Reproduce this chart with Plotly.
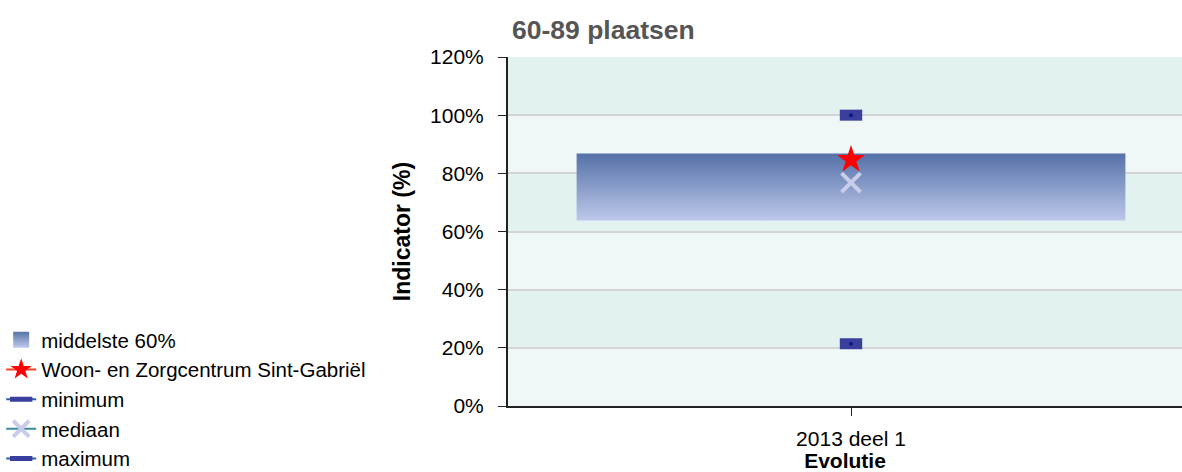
import plotly.graph_objects as go

# ---- data ----
periods = ["2013 deel 1"]
p20 = [63.8]          # lower bound of middle 60%
p80 = [86.8]          # upper bound of middle 60%
facility = [84.7]     # Woon- en Zorgcentrum Sint-Gabriël
minimum = [21.4]
median = [76.8]
maximum = [100.0]
y_ticks = [0, 20, 40, 60, 80, 100, 120]
y_ticklabels = [f"{v}%" for v in y_ticks]

FONT = "Liberation Sans, Arial, sans-serif"
xpos = list(range(len(periods)))
half = 0.4

fig = go.Figure()

# middle 60% box with vertical gradient
for i, x in enumerate(xpos):
    fig.add_trace(go.Scatter(
        x=[x - half, x + half, x + half, x - half, x - half],
        y=[p20[i], p20[i], p80[i], p80[i], p20[i]],
        mode="lines", line=dict(width=0, color="rgba(0,0,0,0)"),
        fill="toself",
        fillgradient=dict(type="vertical",
                          colorscale=[[0, "#bdc8ea"], [1, "#5571a8"]]),
        name="middelste 60%", showlegend=False, hoverinfo="skip",
    ))
# legend entry for the box
fig.add_trace(go.Scatter(
    x=[None], y=[None], mode="markers", name="middelste 60%",
    marker=dict(symbol="square", size=16, color="#5873aa",
                gradient=dict(type="vertical", color="#c0cbec"),
                line=dict(width=0)),
))

fig.add_trace(go.Scatter(
    x=xpos, y=facility, mode="lines+markers", name="Woon- en Zorgcentrum Sint-Gabriël",
    line=dict(color="#ff4020", width=2),
    marker=dict(symbol="star", size=21, color="#ff0000", line=dict(width=0)),
))

fig.add_trace(go.Scatter(
    x=xpos, y=minimum, mode="lines+markers", name="minimum",
    line=dict(color="#2f5fae", width=2),
    marker=dict(symbol="line-ew", size=16, color="#3a3f9e",
                line=dict(width=11, color="#3a3f9e")),
))

fig.add_trace(go.Scatter(
    x=xpos, y=median, mode="lines+markers", name="mediaan",
    line=dict(color="#3a8a9a", width=2),
    marker=dict(symbol="x-thin", size=19, color="#c8cdea",
                line=dict(width=4, color="#c8cdea")),
))

fig.add_trace(go.Scatter(
    x=xpos, y=maximum, mode="lines+markers", name="maximum",
    line=dict(color="#2f5fae", width=2),
    marker=dict(symbol="line-ew", size=16, color="#3a3f9e",
                line=dict(width=11, color="#3a3f9e")),
))

# centre dots of min/max markers (no legend)
fig.add_trace(go.Scatter(
    x=xpos + xpos, y=minimum + maximum, mode="markers", showlegend=False,
    marker=dict(symbol="circle", size=4, color="#101880"), hoverinfo="skip",
))

# alternating background bands
shapes = []
for k in range(len(y_ticks) - 1):
    shapes.append(dict(
        type="rect", xref="paper", yref="y", x0=0, x1=1,
        y0=y_ticks[k], y1=y_ticks[k + 1], layer="below", line=dict(width=0),
        fillcolor="#f0f8f7" if k % 2 == 0 else "#e2f2f0",
    ))

fig.update_layout(
    width=1182, height=472,
    margin=dict(l=508, r=0, t=57, b=66, autoexpand=False),
    paper_bgcolor="white", plot_bgcolor="rgba(0,0,0,0)",
    font=dict(family=FONT, size=21, color="#000000"),
    shapes=shapes,
    title=dict(text="<b>60-89 plaatsen</b>", font=dict(size=26.5, color="#555555", family=FONT),
               xref="container", x=512 / 1182, xanchor="left",
               yref="container", y=1 - 30 / 472, yanchor="middle"),
    legend=dict(xref="container", x=0.001, xanchor="left",
                yref="container", y=1 - 320 / 472, yanchor="top",
                font=dict(size=20.5, family=FONT), bgcolor="rgba(0,0,0,0)",
                traceorder="normal", itemwidth=30),
    showlegend=True,
)

fig.update_xaxes(
    range=[-0.5, 0.4825], tickvals=xpos, ticktext=periods,
    showgrid=False, zeroline=False,
    showline=True, linecolor="#222222", linewidth=2,
    ticks="outside", ticklen=8, tickcolor="#222222", ticklabelstandoff=5,
    title=dict(text="<b>Evolutie</b>", font=dict(size=21), standoff=6),
)
fig.update_yaxes(
    range=[0, 120], tickvals=y_ticks, ticktext=y_ticklabels,
    showgrid=True, gridcolor="#d4d4d4", gridwidth=2, zeroline=False,
    showline=True, linecolor="#222222", linewidth=2,
    ticks="outside", ticklen=8, tickcolor="#222222", ticklabelstandoff=10,
    title=dict(text="<b>Indicator (%)</b>", font=dict(size=23), standoff=13),
)

# remove the default page margin so the figure fills the window exactly
fig.write_html("out.html", config={"displayModeBar": False},
               post_script="document.body.style.margin='0';")
